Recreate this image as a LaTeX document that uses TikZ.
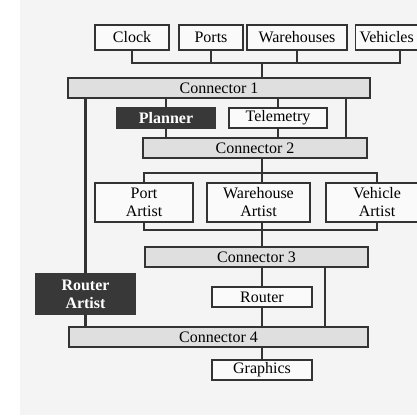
\documentclass[tikz,border=0pt]{standalone}
\usepackage{fontspec}
\setmainfont{Liberation Serif}

\begin{document}
\begin{tikzpicture}[x=1pt, y=1pt,
  box/.style={draw=black!80, line width=1.1pt, fill=gray!4, inner sep=0pt,
              minimum height=25pt, font=\fontsize{16}{18}\selectfont, text=black},
  conn/.style={box, fill=gray!25, minimum height=20pt},
  dark/.style={box, fill=black!78, draw=black!78, text=white,
               font=\fontsize{16}{18}\selectfont\bfseries},
  bus/.style={line width=2.6pt, draw=black!80}]
  \clip (0,0) rectangle (417,415);
  \fill[gray!9] (20,0) rectangle (417,415);

  % top row
  \node[box, minimum width=74pt] (clk) at (132,377.5) {Clock};
  \node[box, minimum width=64pt] (prt) at (211,377.5) {Ports};
  \node[box, minimum width=100pt] (whs) at (297,377.5) {Warehouses};
  \node[box, anchor=west, text width=72pt, inner xsep=4pt, align=left] (veh) at (355,377.5) {Vehicles};

  \node[conn, minimum width=302pt] (c1) at (219,327) {Connector 1};
  \node[dark, minimum width=98pt, minimum height=20pt] (pln) at (166,297) {Planner};
  \node[box, minimum width=98pt, minimum height=20pt] (tel) at (278,297) {Telemetry};
  \node[conn, minimum width=224pt] (c2) at (255,267) {Connector 2};

  % artists
  \node[box, minimum width=98pt, minimum height=39pt, align=center] (part) at (144,212.5) {Port\\Artist};
  \node[box, minimum width=103pt, minimum height=39pt, align=center] (wart) at (258.5,212.5) {Warehouse\\Artist};
  \node[box, minimum width=102pt, minimum height=39pt, align=center] (vart) at (377,212.5) {Vehicle\\Artist};

  \node[conn, minimum width=223pt] (c3) at (256.5,158) {Connector 3};
  \node[box, minimum width=100pt, minimum height=20pt] (rtr) at (262,118) {Router};
  \node[conn, minimum width=299pt] (c4) at (218.5,78) {Connector 4};
  \node[box, minimum width=100pt, minimum height=20pt] (gfx) at (262,45) {Graphics};
  \node[dark, minimum width=99pt, minimum height=40pt, align=center] (rart) at (85.5,121) {Router\\Artist};

  % buses
  \coordinate (j1) at (262,352);
  \coordinate (j2) at (262,242);
  \coordinate (j3) at (262,185);
  \coordinate (v1) at (400,352);
  \coordinate (r1) at (346,0);
  \coordinate (r3) at (325,0);

  \draw[bus] (clk.south) |- (v1) -- (v1 |- veh.south);
  \draw[bus] (prt.south) -- (prt.south |- j1);
  \draw[bus] (whs.south) -- (whs.south |- j1);
  \draw[bus] (j1) -- (j1 |- c1.north);

  \draw[bus] (c1.south -| rart) -- (rart.north);
  \draw[bus] (rart.south) -- (rart.south |- c4.north);
  \draw[bus] (c1.south -| pln) -- (pln.north);
  \draw[bus] (c1.south -| tel) -- (tel.north);
  \draw[bus] (c1.south -| r1) -- (c2.north -| r1);
  \draw[bus] (pln.south) -- (pln.south |- c2.north);
  \draw[bus] (tel.south) -- (tel.south |- c2.north);

  \draw[bus] (c2.south -| j2) -- (j2);
  \draw[bus] (part.north) |- (j2 -| vart) -- (vart.north);
  \draw[bus] (j2) -- (j2 |- wart.north);
  \draw[bus] (part.south) |- (j3 -| vart) -- (vart.south);
  \draw[bus] (j3 |- wart.south) -- (j3) -- (j3 |- c3.north);

  \draw[bus] (c3.south -| rtr) -- (rtr.north);
  \draw[bus] (c3.south -| r3) -- (c4.north -| r3);
  \draw[bus] (rtr.south) -- (rtr.south |- c4.north);
  \draw[bus] (c4.south -| gfx) -- (gfx.north);
\end{tikzpicture}
\end{document}
